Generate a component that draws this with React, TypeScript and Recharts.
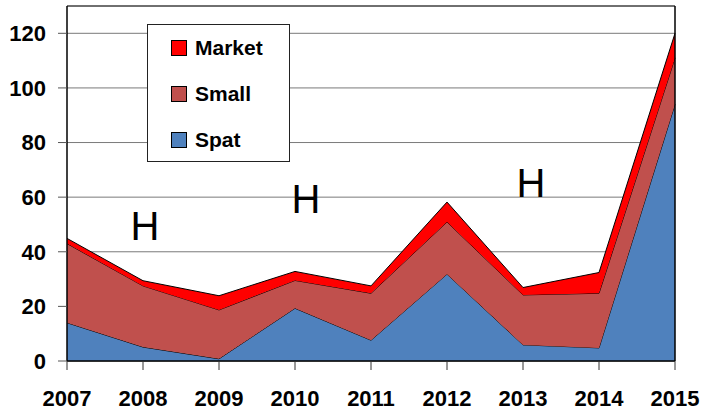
import {
  Area,
  AreaChart,
  CartesianGrid,
  Legend,
  ReferenceDot,
  ReferenceLine,
  XAxis,
  YAxis,
} from "recharts";

const years = ["2007", "2008", "2009", "2010", "2011", "2012", "2013", "2014", "2015"];
const spat = [14, 5.1, 0.8, 19.3, 7.6, 31.8, 5.9, 4.8, 94];
const small = [29, 22.4, 17.9, 10.2, 17.2, 19.1, 18.3, 20, 17];
const market = [1.9, 1.9, 5.2, 3.3, 2.7, 7.3, 2.7, 7.6, 9];
const yTicks = [0, 20, 40, 60, 80, 100, 120];

// legend order (top to bottom) is the reverse of the stacking order
const series = [
  { key: "market", name: "Market", color: "#ff0000" },
  { key: "small", name: "Small", color: "#c0504d" },
  { key: "spat", name: "Spat", color: "#4f81bd" },
];

// the three "H" annotations, anchored to a year and a value
const marks = [
  { year: "2008", value: 44.3, dx: 2 },
  { year: "2010", value: 54.2, dx: 11 },
  { year: "2013", value: 60, dx: 8 },
];

const data = years.map((year, i) => ({
  year,
  spat: spat[i],
  small: small[i],
  market: market[i],
}));

const font = "'Liberation Sans', Arial, sans-serif";
const tickStyle = { fill: "#000", fontSize: 22, fontWeight: 700, fontFamily: font };

function LegendBox() {
  return (
    <div
      style={{
        width: 141,
        height: 136,
        border: "1px solid #222",
        background: "#fff",
        boxSizing: "content-box",
        fontFamily: font,
        fontWeight: 700,
        fontSize: 21,
        color: "#000",
      }}
    >
      {series.map((s, i) => (
        <div
          key={s.key}
          style={{
            position: "absolute",
            left: 24,
            top: 12 + i * 46,
            display: "flex",
            alignItems: "center",
            height: 24,
          }}
        >
          <span
            style={{
              display: "inline-block",
              width: 14,
              height: 14,
              background: s.color,
              border: "1px solid #000",
              marginRight: 8,
            }}
          />
          {s.name}
        </div>
      ))}
    </div>
  );
}

export default function App() {
  return (
    <div style={{ position: "absolute", left: 0, top: 0, width: 703, height: 412, background: "#fff" }}>
      <AreaChart width={703} height={412} data={data} margin={{ top: 6, right: 28, bottom: 0, left: 0 }}>
        <CartesianGrid vertical={false} stroke="#7a7a7a" strokeWidth={1} />
        <XAxis
          dataKey="year"
          interval={0}
          height={51}
          tick={tickStyle}
          tickSize={9}
          tickMargin={20}
          tickLine={{ stroke: "#333" }}
          axisLine={{ stroke: "#000", strokeWidth: 1.5 }}
          padding={{ left: 0, right: 0 }}
        />
        <YAxis
          domain={[0, 130]}
          ticks={yTicks}
          width={67}
          tick={tickStyle}
          tickSize={9}
          tickMargin={12}
          tickLine={{ stroke: "#555" }}
          axisLine={{ stroke: "#000", strokeWidth: 1.5 }}
        />
        <ReferenceLine y={130} stroke="#222" />
        <ReferenceLine x="2015" stroke="#000" strokeWidth={1.5} />
        <Area
          type="linear"
          dataKey="spat"
          name="Spat"
          stackId="a"
          fill="#4f81bd"
          fillOpacity={1}
          stroke="#000"
          strokeWidth={1}
          isAnimationActive={false}
          activeDot={false}
        />
        <Area
          type="linear"
          dataKey="small"
          name="Small"
          stackId="a"
          fill="#c0504d"
          fillOpacity={1}
          stroke="#000"
          strokeWidth={1}
          isAnimationActive={false}
          activeDot={false}
        />
        <Area
          type="linear"
          dataKey="market"
          name="Market"
          stackId="a"
          fill="#ff0000"
          fillOpacity={1}
          stroke="#000"
          strokeWidth={1}
          isAnimationActive={false}
          activeDot={false}
        />
        {marks.map((m) => (
          <ReferenceDot
            key={m.year}
            x={m.year}
            y={m.value}
            r={0}
            shape={(p: any) => (
              <text
                x={p.cx + m.dx}
                y={p.cy}
                textAnchor="middle"
                fontFamily={font}
                fontSize={40}
                fill="#000"
              >
                H
              </text>
            )}
          />
        ))}
        <Legend
          layout="vertical"
          align="center"
          verticalAlign="middle"
          content={() => <LegendBox />}
          wrapperStyle={{ position: "absolute", left: 147, top: 24, width: 143, height: 138 }}
        />
      </AreaChart>
    </div>
  );
}
